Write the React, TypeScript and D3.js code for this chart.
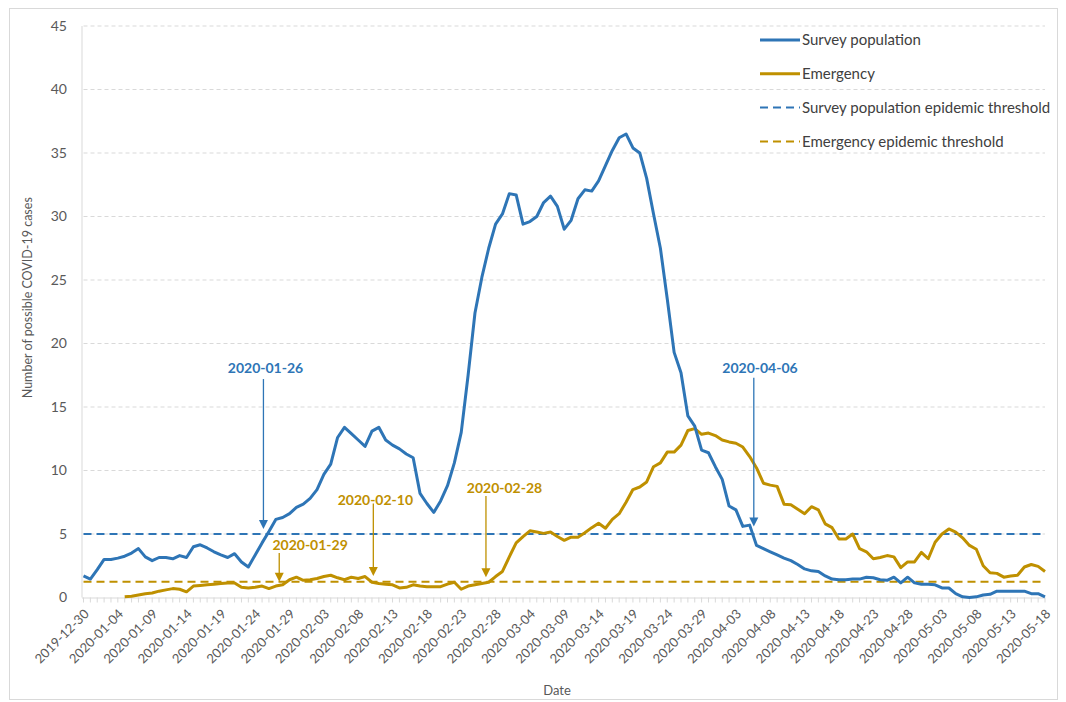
import React from "react";
import * as d3 from "d3";

const START_DATE = "2019-12-30";

const surveyValues: number[] = [
  1.7, 1.45, 2.2, 3.0, 3.0, 3.1, 3.25, 3.5, 3.85, 3.2,
  2.9, 3.15, 3.15, 3.05, 3.3, 3.15, 4.0, 4.15, 3.9, 3.6,
  3.35, 3.15, 3.45, 2.8, 2.4, 3.35, 4.3, 5.2, 6.15, 6.3,
  6.6, 7.1, 7.35, 7.8, 8.5, 9.7, 10.5, 12.6, 13.4, 12.9,
  12.4, 11.9, 13.1, 13.4, 12.4, 12.0, 11.7, 11.3, 11.0, 8.2,
  7.4, 6.7, 7.6, 8.8, 10.6, 13.0, 17.5, 22.4, 25.2, 27.5,
  29.4, 30.2, 31.8, 31.7, 29.4, 29.6, 30.0, 31.1, 31.6, 30.8,
  29.0, 29.7, 31.4, 32.1, 32.0, 32.8, 34.0, 35.2, 36.2, 36.5,
  35.4, 35.0, 33.0, 30.2, 27.5, 23.5, 19.3, 17.7, 14.3, 13.5,
  11.6, 11.4, 10.3, 9.3, 7.2, 6.9, 5.6, 5.7, 4.1, 3.85,
  3.6, 3.35, 3.1, 2.9, 2.6, 2.25, 2.1, 2.05, 1.7, 1.45,
  1.4, 1.4, 1.45, 1.45, 1.6, 1.55, 1.4, 1.35, 1.6, 1.15,
  1.6, 1.15, 1.05, 1.05, 1.0, 0.75, 0.75, 0.3, 0.05, 0.0,
  0.05, 0.2, 0.25, 0.5, 0.5, 0.5, 0.5, 0.5, 0.3, 0.3,
  0.05,
];

const emergencyValues: (number | null)[] = [
  null, null, null, null, null, null, 0.05, 0.1, 0.2, 0.3,
  0.35, 0.5, 0.6, 0.7, 0.65, 0.45, 0.9, 0.95, 1.0, 1.05,
  1.1, 1.15, 1.15, 0.8, 0.75, 0.8, 0.9, 0.7, 0.9, 1.0,
  1.4, 1.6, 1.35, 1.4, 1.5, 1.65, 1.75, 1.55, 1.4, 1.6,
  1.5, 1.65, 1.2, 1.1, 1.05, 1.0, 0.75, 0.8, 1.0, 0.9,
  0.85, 0.85, 0.85, 1.05, 1.2, 0.65, 0.9, 1.0, 1.1, 1.2,
  1.65, 2.05, 3.2, 4.3, 4.8, 5.25, 5.15, 5.05, 5.15, 4.8,
  4.5, 4.75, 4.75, 5.1, 5.5, 5.85, 5.45, 6.15, 6.6, 7.5,
  8.5, 8.7, 9.1, 10.3, 10.6, 11.45, 11.45, 12.0, 13.15, 13.3,
  12.85, 12.95, 12.75, 12.4, 12.25, 12.15, 11.85, 11.1, 10.2, 9.0,
  8.85, 8.75, 7.35, 7.3, 6.95, 6.6, 7.15, 6.9, 5.8, 5.5,
  4.6, 4.6, 5.0, 3.85, 3.6, 3.05, 3.15, 3.3, 3.2, 2.35,
  2.8, 2.8, 3.55, 3.05, 4.35, 5.0, 5.4, 5.15, 4.7, 4.1,
  3.8, 2.5, 1.95, 1.9, 1.6, 1.7, 1.75, 2.4, 2.6, 2.45,
  2.05,
];

const surveyThreshold = 5.0;
const emergencyThreshold = 1.24;

const yTicks = [0, 5, 10, 15, 20, 25, 30, 35, 40, 45];

const xTickLabels = [
  "2019-12-30", "2020-01-04", "2020-01-09", "2020-01-14", "2020-01-19",
  "2020-01-24", "2020-01-29", "2020-02-03", "2020-02-08", "2020-02-13",
  "2020-02-18", "2020-02-23", "2020-02-28", "2020-03-04", "2020-03-09",
  "2020-03-14", "2020-03-19", "2020-03-24", "2020-03-29", "2020-04-03",
  "2020-04-08", "2020-04-13", "2020-04-18", "2020-04-23", "2020-04-28",
  "2020-05-03", "2020-05-08", "2020-05-13", "2020-05-18",
];

const seriesNames = [
  "Survey population",
  "Emergency",
  "Survey population epidemic threshold",
  "Emergency epidemic threshold",
];

// annotation: label, arrow day index, text center day index, arrow top value, arrow tip value, text baseline value, series
const annotationLabels = ["2020-01-26", "2020-01-29", "2020-02-10", "2020-02-28", "2020-04-06"];
const annotationArrowDay = [26.2, 28.5, 42.2, 58.6, 97.6];
const annotationTextDay = [26.5, 33.0, 42.5, 61.3, 98.5];
const annotationTop = [17.2, 3.5, 7.4, 8.0, 17.3];
const annotationTip = [5.4, 1.25, 1.7, 1.6, 5.6];
const annotationTextValue = [17.7, 3.75, 7.3, 8.2, 17.7];
const annotationSeries = [0, 1, 1, 1, 0];

const BLUE = "#2E75B6";
const GOLD = "#BF9000";
const FONT = "Lato, 'Open Sans', sans-serif";
const TEXT = "#595959";

export default function App() {
  const W = 1066;
  const H = 702;
  const left = 83.5;
  const right = 1045;
  const top = 26;
  const bottom = 597.5;

  const nDays = surveyValues.length;
  const start = new Date(START_DATE + "T00:00:00Z");
  const dates = d3.range(nDays).map((i) => d3.utcDay.offset(start, i));

  const x = d3.scaleLinear().domain([0, nDays - 1]).range([left, right]);
  const y = d3.scaleLinear().domain([0, 45]).range([bottom, top]);
  const fmt = d3.utcFormat("%Y-%m-%d");

  const line = d3
    .line<number | null>()
    .defined((d) => d !== null)
    .x((_, i) => x(i))
    .y((d) => y(d as number));

  const colors = [BLUE, GOLD];

  const tickIndex = xTickLabels.map((lab) => dates.findIndex((d) => fmt(d) === lab));

  return (
    <div style={{ position: "absolute", left: 0, top: 0 }}>
      <svg width={W} height={H} style={{ display: "block", background: "#fff" }} fontFamily={FONT}>
        <rect x={9.5} y={8.5} width={1048} height={691} fill="#fff" stroke="#d9d9d9" strokeWidth={1} />
        {/* gridlines */}
        {yTicks.filter((t) => t > 0).map((t) => (
          <line key={t} x1={left} x2={right} y1={y(t)} y2={y(t)} stroke="#d9d9d9" strokeWidth={1} strokeDasharray="4,3" />
        ))}
        {/* axes */}
        <line x1={left - 1.5} x2={left - 1.5} y1={top} y2={bottom} stroke="#d9d9d9" strokeWidth={1} />
        <line x1={left - 1.5} x2={right} y1={bottom + 0.5} y2={bottom + 0.5} stroke="#d9d9d9" strokeWidth={1} />
        {dates.map((_, i) => (
          <line key={i} x1={x(i)} x2={x(i)} y1={bottom} y2={bottom + 5} stroke="#d9d9d9" strokeWidth={1} />
        ))}
        {yTicks.map((t) => (
          <text key={t} x={67} y={y(t)} dy="0.35em" textAnchor="end" fontSize={14} fill={TEXT}>
            {t}
          </text>
        ))}
        {xTickLabels.map((lab, k) => (
          <text
            key={lab}
            transform={`translate(${x(tickIndex[k]) + 3},${bottom + 14}) rotate(-45)`}
            textAnchor="end"
            dy="0.35em"
            fontSize={13}
            fill={TEXT}
          >
            {lab}
          </text>
        ))}
        <text transform={`translate(32,${(top + bottom) / 2 - 14}) rotate(-90)`} textAnchor="middle" fontSize={12.5} fill={TEXT}>
          Number of possible COVID-19 cases
        </text>
        <text x={557} y={695} textAnchor="middle" fontSize={13} fill={TEXT}>
          Date
        </text>
        {/* thresholds */}
        <line x1={left} x2={right} y1={y(surveyThreshold)} y2={y(surveyThreshold)} stroke={BLUE} strokeWidth={2} strokeDasharray="8,5" />
        <line x1={left} x2={right} y1={y(emergencyThreshold)} y2={y(emergencyThreshold)} stroke={GOLD} strokeWidth={2} strokeDasharray="8,5" />
        {/* series */}
        <path d={line(emergencyValues) || ""} fill="none" stroke={GOLD} strokeWidth={3} strokeLinejoin="round" />
        <path d={line(surveyValues) || ""} fill="none" stroke={BLUE} strokeWidth={3} strokeLinejoin="round" />
        {/* annotations */}
        {annotationLabels.map((lab, k) => {
          const c = colors[annotationSeries[k]];
          const ax = x(annotationArrowDay[k]);
          const y1 = y(annotationTop[k]);
          const y2 = y(annotationTip[k]);
          return (
            <g key={lab}>
              <line x1={ax} x2={ax} y1={y1} y2={y2 - 7} stroke={c} strokeWidth={1.3} />
              <path d={`M${ax - 4.5},${y2 - 9}L${ax + 4.5},${y2 - 9}L${ax},${y2}Z`} fill={c} />
              <text x={x(annotationTextDay[k])} y={y(annotationTextValue[k])} textAnchor="middle" fontSize={14} fontWeight="bold" fill={c}>
                {lab}
              </text>
            </g>
          );
        })}
        {/* legend */}
        {seriesNames.map((name, k) => {
          const ly = 40 + k * 33.8;
          const c = k % 2 === 0 ? BLUE : GOLD;
          return (
            <g key={name}>
              <line x1={760} x2={800} y1={ly} y2={ly} stroke={c} strokeWidth={k < 2 ? 3 : 2} strokeDasharray={k < 2 ? undefined : "8,5"} />
              <text x={802} y={ly} dy="0.35em" fontSize={15} fill="#404040">
                {name}
              </text>
            </g>
          );
        })}
      </svg>
    </div>
  );
}
